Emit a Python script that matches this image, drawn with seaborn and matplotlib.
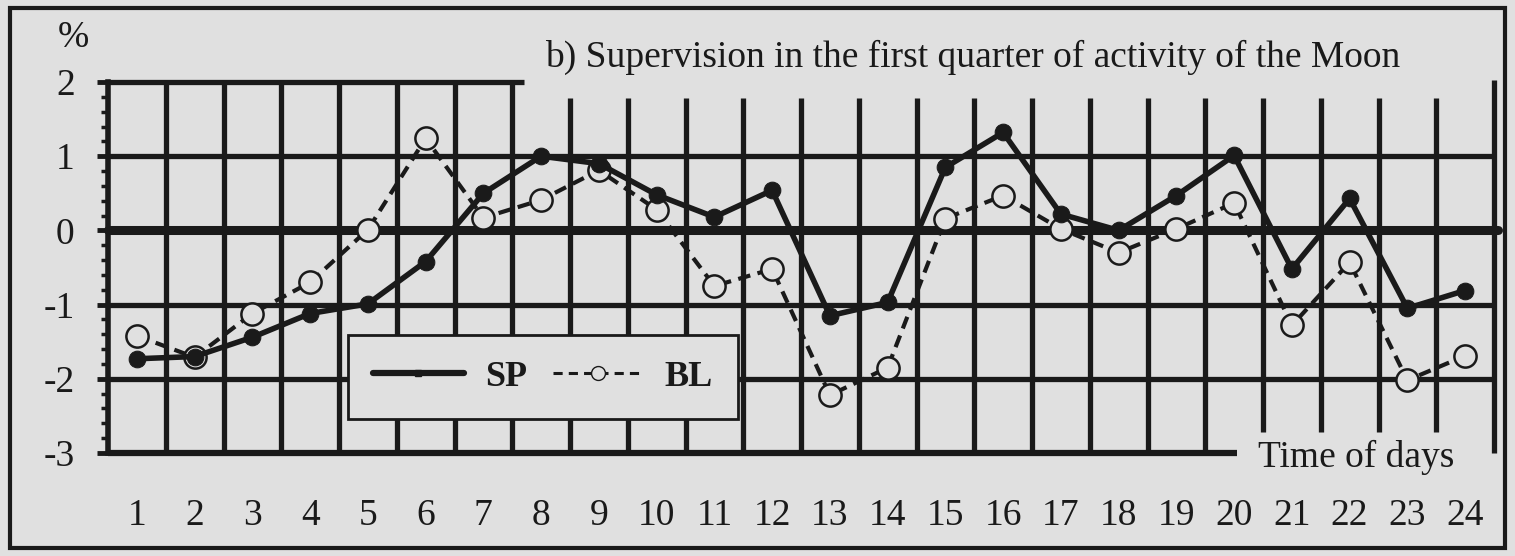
import numpy as np
import pandas as pd
import matplotlib
matplotlib.use('Agg')
import matplotlib.pyplot as plt
import seaborn as sns
from matplotlib.lines import Line2D
from matplotlib.patches import Rectangle

# ---- data ----
days = list(range(1, 25))
sp = [-1.73, -1.70, -1.44, -1.12, -0.99, -0.42, 0.50, 1.00, 0.90, 0.48, 0.18, 0.54,
      -1.15, -0.97, 0.85, 1.32, 0.22, 0.00, 0.47, 1.01, -0.52, 0.43, -1.05, -0.81]
bl = [-1.42, -1.71, -1.12, -0.70, 0.01, 1.24, 0.17, 0.41, 0.81, 0.28, -0.75, -0.52,
      -2.22, -1.85, 0.16, 0.47, 0.02, -0.30, 0.02, 0.37, -1.28, -0.43, -2.02, -1.69]
series_names = ['SP', 'BL']
x_labels = [str(d) for d in days]
y_ticks = [-3, -2, -1, 0, 1, 2]
title = 'b) Supervision in the first quarter of activity of the Moon'
x_title = 'Time of days'
y_title = '%'

sns.set_theme(style='white')
plt.rcParams['font.family'] = ['Liberation Serif', 'DejaVu Serif']
plt.rcParams['axes.unicode_minus'] = False
plt.rcParams['text.color'] = 'k'

W, H = 1515, 556
bg = '#e0e0e0'
fig = plt.figure(figsize=(W / 100, H / 100), dpi=100, facecolor=bg)
ax = fig.add_axes([108 / W, 1 - 453 / H, (1494 - 108) / W, (453 - 82) / H])
ax.set_facecolor(bg)

df = pd.DataFrame({'day': days * 2, 'value': sp + bl,
                   'series': [series_names[0]] * 24 + [series_names[1]] * 24})

# grid (heavy black lines)
vx = np.arange(1.5, 24.5, 1.0)
ymax = np.where(vx < 8, 2.0, 1.78)
ymin = np.where(vx > 20, -2.72, -3.0)
ax.vlines(vx, ymin, ymax, colors='k', lw=3.8, zorder=1)
ax.hlines([1, -1, -2], 0.5, 24.5, colors='k', lw=3.8, zorder=1)
ax.axhline(0, color='k', lw=6.5, zorder=1, xmax=1.003, clip_on=False)
ax.hlines(2, 0.5, 7.7, colors='k', lw=3.8, zorder=1, clip_on=False)
ax.hlines(-3, 0.5, 20.05, colors='k', lw=4.5, zorder=1, clip_on=False)
ax.vlines(24.5, -3.0, 2.03, colors='k', lw=3.8, zorder=1, clip_on=False)

# series
d_bl = df[df.series == 'BL']
d_sp = df[df.series == 'SP']
sns.lineplot(data=d_bl, x='day', y='value', ax=ax, color='k', lw=3.0,
             linestyle=(0, (3, 1.8)), marker='o', markersize=16,
             markerfacecolor=bg, markeredgecolor='k', markeredgewidth=1.8,
             zorder=4, legend=False)
sns.lineplot(data=d_sp, x='day', y='value', ax=ax, color='k', lw=4.0,
             marker='o', markersize=12, markerfacecolor='k',
             markeredgecolor='k', zorder=5, legend=False)

ax.set_xlim(0.5, 24.5)
ax.set_ylim(-3, 2)
ax.set_xlabel('')
ax.set_ylabel('')
for s in ['top', 'right', 'bottom']:
    ax.spines[s].set_visible(False)
ax.spines['left'].set_color('k')
ax.spines['left'].set_linewidth(4)

ax.set_xticks(days, x_labels)
ax.set_yticks(y_ticks)
ax.set_yticks(np.arange(-3, 2.01, 0.2), minor=True)
ax.tick_params(axis='x', length=0, pad=33, labelsize=27, colors='k')
ax.tick_params(axis='y', which='major', left=True, length=8, width=3.5,
               direction='out', pad=16, labelsize=27, colors='k')
ax.tick_params(axis='y', which='minor', left=True, length=5, width=2.5,
               direction='out', colors='k')

# legend
handles = [Line2D([0], [0], color='k', lw=4.5, marker='s', markersize=5),
           Line2D([0], [0], color='k', lw=2.2, linestyle=(0, (3, 2)), marker='o',
                  markersize=10, markerfacecolor=bg, markeredgecolor='k')]
leg = ax.legend(handles, series_names, ncol=2, loc='upper left',
                bbox_to_anchor=(348 / W, 1 - 335 / H),
                bbox_transform=fig.transFigure, fancybox=False,
                frameon=True, facecolor=bg, edgecolor='k', framealpha=1,
                prop={'weight': 'bold', 'size': 26}, handlelength=2.5,
                handletextpad=0.6, columnspacing=0.7, borderpad=0.7,
                borderaxespad=0)
leg.get_frame().set_linewidth(2)
leg.set_zorder(6)

# texts
fig.text(58 / W, 1 - 38 / H, y_title, fontsize=27, va='center', ha='left', color='k')
fig.text(545 / W, 1 - 57 / H, title, fontsize=27, va='center', ha='left', color='k')
fig.text(1258 / W, 1 - 457 / H, x_title, fontsize=27, va='center', ha='left', color='k')

fig.patches.append(Rectangle((10 / W, 8 / H), 1495 / W, 540 / H,
                             transform=fig.transFigure, fill=False,
                             ec='k', lw=3))

fig.savefig('out.png', dpi=100, facecolor=bg)
